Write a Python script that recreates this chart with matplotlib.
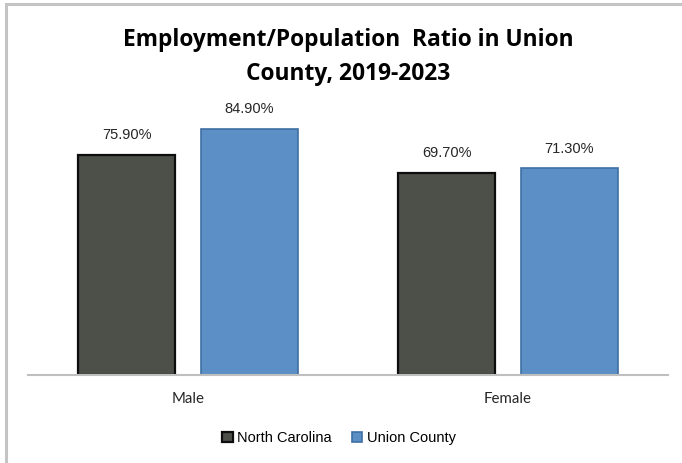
import matplotlib.pyplot as plt
import numpy as np
from matplotlib.patches import Rectangle

categories = ["Male", "Female"]
north_carolina = [75.9, 69.7]
union_county = [84.9, 71.3]
series_names = ["North Carolina", "Union County"]

W, H = 682, 463
fig = plt.figure(figsize=(W / 100, H / 100), dpi=100)

# light gray chart frame (only top/left edges visible)
fig.patches.append(Rectangle((6 / W, -0.1), 1.2, (H - 4) / H + 0.1,
                             transform=fig.transFigure, fill=False,
                             edgecolor="#c4c4c4", linewidth=2.2))

ax = fig.add_axes([28 / W, 88 / H, 640 / W, 290 / H])
x = np.arange(len(categories))
bw = 0.303
off = 0.192

b1 = ax.bar(x - off, north_carolina, bw, color="#4d5049", edgecolor="#0d0d0d",
            linewidth=1.6, label=series_names[0])
b2 = ax.bar(x + off, union_county, bw, color="#5b8fc6", edgecolor="#3f6fa3",
            linewidth=1.2, label=series_names[1])

for bars, vals in [(b1, north_carolina), (b2, union_county)]:
    for b, v in zip(bars, vals):
        ax.annotate(f"{v:.2f}%", (b.get_x() + b.get_width() / 2, v),
                    xytext=(0, 9), textcoords="offset points",
                    ha="center", va="bottom", fontsize=10.5,
                    family="Liberation Sans", color="#262626")

ax.set_xlim(-0.5, 1.5)
ax.set_ylim(0, 100)
ax.set_yticks([])
ax.set_xticks(x)
ax.set_xticklabels(categories, family="Lato", fontsize=10.8, color="#262626")
ax.tick_params(axis="x", length=0, pad=12)
for s in ["top", "right", "left"]:
    ax.spines[s].set_visible(False)
ax.spines["bottom"].set_color("#bfbfbf")
ax.spines["bottom"].set_linewidth(1.5)

fig.text(348 / W, 1 - 57 / H, "Employment/Population  Ratio in Union\nCounty, 2019-2023",
         ha="center", va="center", fontsize=16.4, fontweight="bold",
         family="Open Sans", linespacing=1.5, color="#000000")

fig.legend(handles=[b1, b2], loc="center", bbox_to_anchor=(339 / W, 1 - 438 / H),
           ncol=2, frameon=False, prop={"family": "Liberation Sans", "size": 10.5},
           handlelength=0.7, handleheight=0.7, handletextpad=0.3, columnspacing=1.4)

fig.savefig("out.png", dpi=100)
